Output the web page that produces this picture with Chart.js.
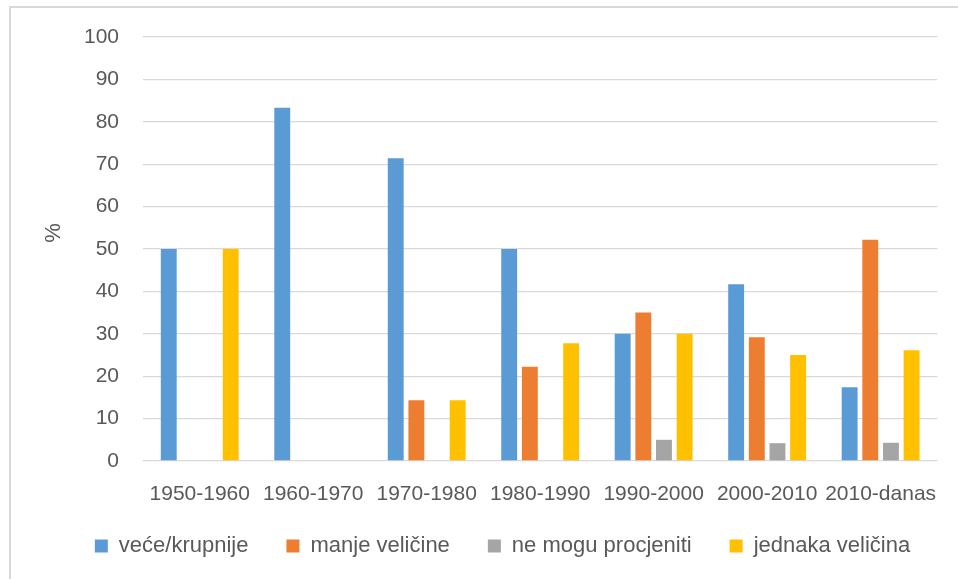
<!DOCTYPE html>
<html>
<head>
<meta charset="utf-8">
<script src="https://cdn.jsdelivr.net/npm/chart.js@4/dist/chart.umd.min.js"></script>
<style>
  html, body { margin: 0; padding: 0; background: #ffffff; }
  #frame { position: absolute; left: 9px; top: 6px; width: 980px; height: 600px; border: 2px solid #d9d9d9; box-sizing: border-box; }
  #wrap { position: absolute; left: 0; top: 0; width: 958px; height: 579px; }
</style>
</head>
<body>
<div id="frame"></div>
<div id="wrap"><canvas id="c" width="958" height="579"></canvas></div>
<script>
const categories = ['1950-1960', '1960-1970', '1970-1980', '1980-1990', '1990-2000', '2000-2010', '2010-danas'];
const seriesNames = ['veće/krupnije', 'manje veličine', 'ne mogu procjeniti', 'jednaka veličina'];
const veceKrupnije = [50, 83.3, 71.4, 50, 30, 41.7, 17.4];
const manjeVelicine = [0, 0, 14.3, 22.2, 35, 29.2, 52.2];
const neMoguProcjeniti = [0, 0, 0, 0, 5, 4.2, 4.3];
const jednakaVelicina = [50, 0, 14.3, 27.8, 30, 25, 26.1];
const yTicks = [0, 10, 20, 30, 40, 50, 60, 70, 80, 90, 100];
const colors = ['#5B9BD5', '#ED7D31', '#A5A5A5', '#FFC000'];
const seriesValues = [veceKrupnije, manjeVelicine, neMoguProcjeniti, jednakaVelicina];

const FONT = "'Liberation Sans', Arial, sans-serif";
const TEXT = '#595959';

// layout fine-tuning: move legend and y-axis title to match the reference
const tunePlugin = {
  id: 'tune',
  afterLayout(chart) {
    const lg = chart.legend;
    if (lg) {
      lg.top -= 14; lg.bottom -= 14;
      lg.left += 14; lg.right += 14;
    }
    const y = chart.scales.y;
    if (y) { y.bottom -= 32; }
  }
};

new Chart(document.getElementById('c'), {
  type: 'bar',
  data: {
    labels: categories,
    datasets: seriesValues.map((vals, i) => ({
      label: seriesNames[i],
      data: vals,
      backgroundColor: colors[i],
      borderWidth: 0,
      clip: false,
      categoryPercentage: 0.728,
      barPercentage: 0.77
    }))
  },
  plugins: [tunePlugin],
  options: {
    responsive: false,
    animation: false,
    devicePixelRatio: 1,
    layout: { padding: { left: 32, right: 13, top: 37, bottom: 0 } },
    plugins: {
      legend: {
        position: 'bottom',
        maxHeight: 68,
        labels: {
          boxWidth: 13,
          boxHeight: 13,
          padding: 38,
          color: TEXT,
          font: { family: FONT, size: 22 }
        }
      },
      tooltip: { enabled: false }
    },
    scales: {
      x: {
        grid: { display: false, drawTicks: false },
        border: { display: false },
        ticks: { color: TEXT, font: { family: FONT, size: 21 }, padding: 21, maxRotation: 0 },
        afterFit: (s) => { s.height = 50; }
      },
      y: {
        min: 0,
        max: 100,
        afterBuildTicks: (s) => { s.ticks = yTicks.map(v => ({ value: v })); },
        grid: { color: '#d9d9d9', lineWidth: 1.3, drawTicks: false },
        border: { display: false },
        ticks: { color: TEXT, font: { family: FONT, size: 21 }, padding: 24 },
        title: { display: true, text: '%', color: TEXT, font: { family: FONT, size: 22 }, padding: { top: 9, bottom: 0 } },
        afterFit: (s) => { s.width = 111; }
      }
    }
  }
});
</script>
</body>
</html>
